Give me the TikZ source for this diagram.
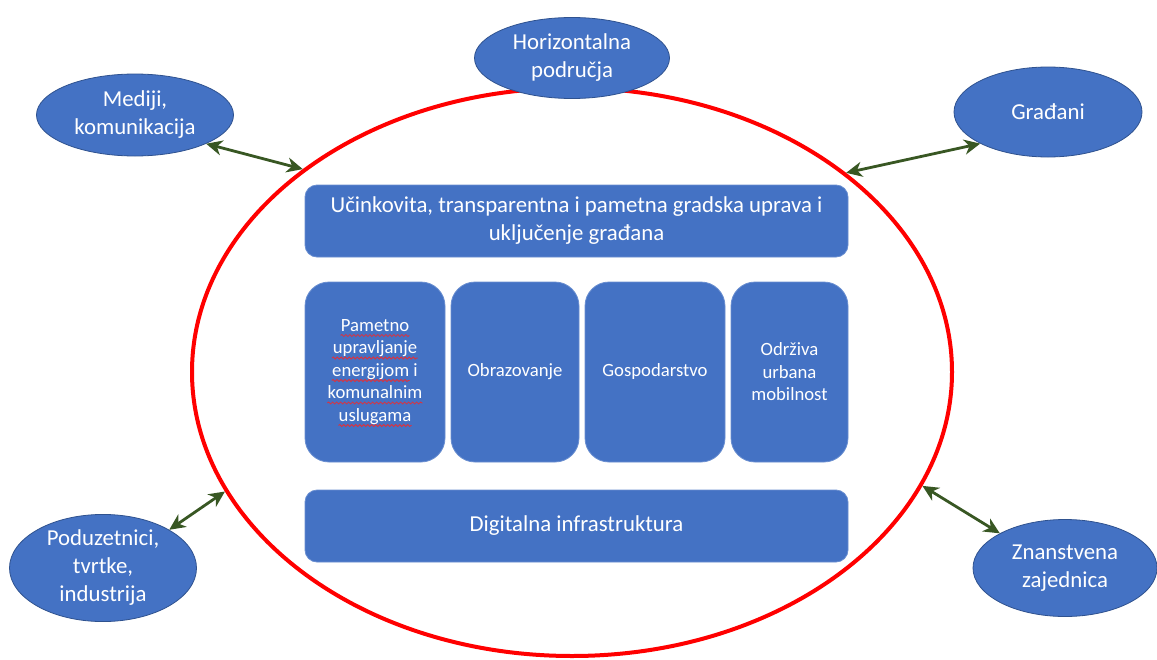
\documentclass[tikz,border=0pt]{standalone}
\usepackage{fontspec}
\setmainfont{Carlito}
\usetikzlibrary{shapes.geometric,arrows.meta,decorations.pathmorphing}
\definecolor{boxblue}{HTML}{4472C4}
\definecolor{edgeblue}{HTML}{2F528F}
\definecolor{ringred}{HTML}{FF0000}
\definecolor{arrgreen}{HTML}{385723}
\definecolor{spellred}{HTML}{E0303A}
\tikzset{
  bigtext/.style={font=\fontsize{22.8}{28}\selectfont},
  smalltext/.style={font=\fontsize{18.7}{22.5}\selectfont},
  actor/.style={ellipse, fill=boxblue, draw=edgeblue, line width=0.8pt, text=white, align=center, inner sep=0pt, bigtext},
  bar/.style={rectangle, rounded corners=12pt, fill=boxblue, draw=boxblue!80!white, line width=0.8pt, text=white, align=center, inner sep=0pt, minimum width=543pt, minimum height=72pt, bigtext},
  pillar/.style={rectangle, rounded corners=24pt, fill=boxblue, draw=boxblue!80!white, line width=0.8pt, text=white, align=center, inner sep=0pt, minimum height=180pt, smalltext},
  link/.style={arrgreen, line width=2.8pt, {Stealth[length=16pt,width=15pt,inset=5pt]}-{Stealth[length=16pt,width=15pt,inset=5pt]}},
  spellmark/.style={spellred, line width=0.8pt, decorate, decoration={snake, segment length=4pt, amplitude=1pt}},
}
\begin{document}
\begin{tikzpicture}[x=1pt,y=-1pt]
\useasboundingbox[fill=white] (0,0) rectangle (1157,659);
% red ring
\node[ellipse, draw=ringred, line width=4pt, minimum width=760pt, minimum height=568pt, inner sep=0pt] (ring) at (572,372) {};
% actors
\node[actor, minimum width=195pt, minimum height=81pt] (hor) at (572,58) {Horizontalna\\područja};
\node[actor, minimum width=197pt, minimum height=82pt] (med) at (135,115) {Mediji,\\komunikacija};
\node[actor, minimum width=188pt, minimum height=90pt] (gra) at (1048,112) {Građani};
\node[actor, minimum width=187pt, minimum height=107pt] (pod) at (103,568) {Poduzetnici,\\tvrtke,\\industrija};
\node[actor, minimum width=184pt, minimum height=97pt] (zna) at (1065,568) {Znanstvena\\zajednica};
% inner boxes
\node[bar] (gov) at (576.5,221) {Učinkovita, transparentna i pametna gradska uprava i\\uključenje građana};
\node[pillar, minimum width=140pt] (p1) at (375,372) {Pametno\\upravljanje\\energijom i\\komunalnim\\uslugama};
\node[pillar, minimum width=128pt] (p2) at (515,372) {Obrazovanje};
\node[pillar, minimum width=140pt] (p3) at (655,372) {Gospodarstvo};
\node[pillar, minimum width=117pt] (p4) at (789.5,372) {Održiva\\urbana\\mobilnost};
\node[bar] (dig) at (576.5,526) {Digitalna infrastruktura};
% spell-check marks under the words of the first pillar
\foreach \xs/\wd/\ys in {-34.4/68.8/-36.5, -43/86/-14, -43.2/77.8/8.5, -47.6/95.2/31, -36.5/73/53.5}
  \draw[spellmark] ([shift={(\xs,\ys)}]p1.center) -- ++(\wd,0);
% connectors
\draw[link] (med.-22.6) -- (ring.143.1);
\draw[link] (ring.36) -- (gra.205.9);
\draw[link] (pod.30) -- (ring.199);
\draw[link] (ring.-18.5) -- (zna.152);
\end{tikzpicture}
\end{document}
